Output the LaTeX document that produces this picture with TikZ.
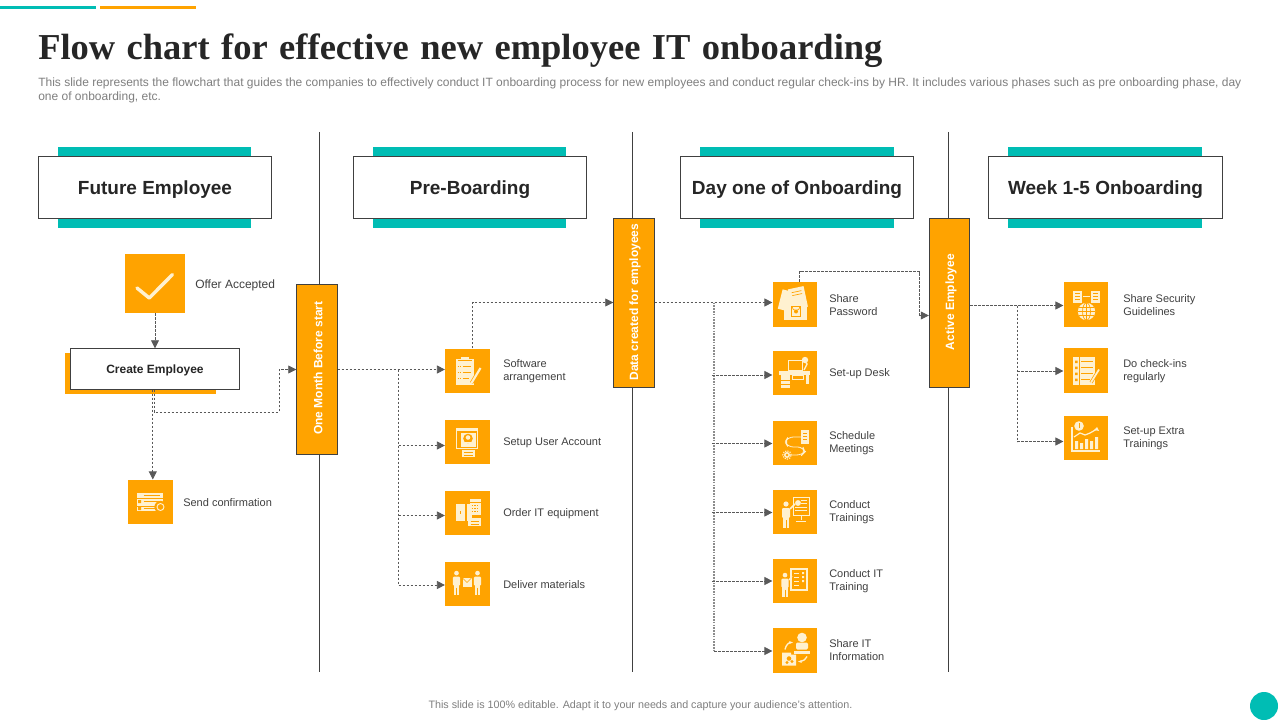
\documentclass[tikz,border=0pt]{standalone}
\usepackage{fontspec}
\setmainfont{Liberation Sans}
\newfontfamily\titlefont[WordSpace=1.25]{Liberation Serif}
\usetikzlibrary{arrows.meta}
\definecolor{orng}{HTML}{FFA300}
\definecolor{teal2}{HTML}{00BDB4}
\definecolor{edge}{HTML}{404040}
\definecolor{conn}{HTML}{595959}
\definecolor{txt}{HTML}{404040}
\definecolor{sub}{HTML}{7F7F7F}
\definecolor{cream}{HTML}{FFF1D0}
\newcommand{\pxfont}[1]{\pgfmathsetmacro{\pxs}{#1*0.75}\fontsize{\pxs pt}{\pxs pt}\selectfont}
\tikzset{
  x=0.75pt,y=-0.75pt,
  header/.style={draw=edge,line width=0.6pt,fill=white,minimum width=175pt,minimum height=47pt,inner sep=0pt,font=\bfseries\pxfont{19},text=black!85},
  tealbar/.style={fill=teal2,draw=none,minimum width=145pt,minimum height=60.75pt,inner sep=0pt},
  vbar/.style={draw=edge,line width=0.6pt,fill=orng,minimum width=30.5pt,inner sep=0pt},
  vtext/.style={rotate=90,text=white,font=\bfseries\pxfont{12},inner sep=0pt},
  icobox/.style={fill=orng,draw=none,minimum width=33.5pt,minimum height=33.5pt,inner sep=0pt},
  lab/.style={anchor=west,align=left,text=txt,font=\pxfont{11},inner sep=0pt,yshift=-0.75pt},
  conn/.style={draw=conn,line width=0.6pt,dash pattern=on 2pt off 1pt},
  arr/.style={conn,-{Triangle[length=6pt,width=6pt,fill=conn]}},
  trunk/.style={draw=black!45,line width=0.8pt,dash pattern=on 1.3pt off 0.8pt},
  divider/.style={draw=edge,line width=0.7pt},
  ic/.style={fill=cream,draw=none},
  icl/.style={draw=cream,line width=0.6pt,fill=none},
  icd/.style={draw=orng,line width=0.5pt},
}
\newcommand{\person}[3]{%
  \fill[ic] (#1,#2-11*#3) circle (2.6*#3*0.75pt);
  \fill[ic,rounded corners=0.8pt] (#1-4*#3,#2-7*#3) rectangle (#1+4*#3,#2+3*#3);
  \fill[ic] (#1-3.2*#3,#2+2*#3) rectangle (#1+3.2*#3,#2+13*#3);
  \draw[icd] (#1,#2+5*#3) -- (#1,#2+13*#3);}
\newcommand{\gear}[3]{%
  \fill[ic] (#1,#2) circle (#3*0.75pt);
  \draw[cream,line width=0.8pt,dash pattern=on 0.9pt off 0.9pt] (#1,#2) circle (#3*1.05pt);
  \fill[orng] (#1,#2) circle (#3*0.35pt);}
\newcommand{\hdtext}[1]{\raisebox{-5.1pt}[0pt][0pt]{#1}}
\begin{document}
\begin{tikzpicture}
\useasboundingbox (0,0) rectangle (1280,720);
\fill[white] (0,0) rectangle (1280,720);
% top accents
\fill[teal2] (0,6) rectangle (96,9);
\fill[orng] (100,6) rectangle (196,9);
% title
\node[anchor=base west,inner sep=0pt,text=black!85] (title) at (38,60) {\titlefont\bfseries\pxfont{36.5}Flow chart for effective new employee IT onboarding};
\node[anchor=base west,inner sep=0pt,text=sub,font=\pxfont{12}] (sub1) at (38,87) {This slide represents the flowchart that guides the companies to effectively conduct IT onboarding process for new employees and conduct regular check-ins by HR. It includes various phases such as pre onboarding phase, day};
\node[anchor=base west,inner sep=0pt,text=sub,font=\pxfont{12}] (sub2) at (38,100.5) {one of onboarding, etc.};
% dividers
\coordinate (d1t) at (319,132); \coordinate (d1b) at (319,672);
\coordinate (d2t) at (632.5,132); \coordinate (d2b) at (632.5,672);
\coordinate (d3t) at (948,132); \coordinate (d3b) at (948,672);
\draw[divider] (d1t) -- (d1b);
\draw[divider] (d2t) -- (d2b);
\draw[divider] (d3t) -- (d3b);
% headers
\node[tealbar] (t1) at (154.5,187.5) {};
\node[tealbar] (t2) at (469.5,187.5) {};
\node[tealbar] (t3) at (797,187.5) {};
\node[tealbar] (t4) at (1105,187.5) {};
\node[header] (h1) at (155,187.5) {\hdtext{Future Employee}};
\node[header] (h2) at (470,187.5) {\hdtext{Pre-Boarding}};
\node[header] (h3) at (797,187.5) {\hdtext{Day one of Onboarding}};
\node[header] (h4) at (1105.5,187.5) {\hdtext{Week 1-5 Onboarding}};
% vertical bars
\node[vbar,minimum height=127.5pt] (bar1) at (317,369) {};
\node[vbar,minimum height=126.75pt] (bar2) at (634,302.5) {};
\node[vbar,minimum height=126.75pt] (bar3) at (949.5,302.5) {};
\node[vtext] (bar1t) at (318,368) {One Month Before start};
\node[vtext] (bar2t) at (635,302) {Data created for employees};
\node[vtext] (bar3t) at (951,302) {Active Employee};
% column 1
\node[icobox,minimum width=45pt,minimum height=44.25pt] (offer) at (155,283.5) {};
\node[lab,font=\pxfont{12}] (offerl) at (195,284) {Offer Accepted};
\fill[orng] (65,353) rectangle (216,394);
\node[draw=edge,line width=0.6pt,fill=white,minimum width=127pt,minimum height=30.5pt,inner sep=0pt,font=\bfseries\pxfont{12},text=black!85] (create) at (155,369) {\raisebox{-3.5pt}[0pt][0pt]{Create Employee}};
\node[icobox] (send) at (150.5,502) {};
\node[lab] (sendl) at (183,501.5) {Send confirmation};
% column 2
\node[icobox] (soft) at (467.5,371) {};
\node[icobox] (user) at (467.5,442) {};
\node[icobox] (order) at (467.5,513) {};
\node[icobox] (deliver) at (467.5,584) {};
\node[lab] (softl) at (503,370) {Software\\[1.5pt]arrangement};
\node[lab] (userl) at (503,441.5) {Setup User Account};
\node[lab] (orderl) at (503,512.5) {Order IT equipment};
\node[lab] (deliverl) at (503,583.5) {Deliver materials};
% column 3
\node[icobox] (pass) at (795,304.5) {};
\node[icobox] (desk) at (795,373) {};
\node[icobox] (meet) at (795,443) {};
\node[icobox] (ctrain) at (795,512) {};
\node[icobox] (ittrain) at (795,581) {};
\node[icobox] (share) at (795,650.5) {};
\node[lab] (passl) at (829,304) {Share\\[1.5pt]Password};
\node[lab] (deskl) at (829,372.5) {Set-up Desk};
\node[lab] (meetl) at (829,442) {Schedule\\[1.5pt]Meetings};
\node[lab] (ctrainl) at (829,511) {Conduct\\[1.5pt]Trainings};
\node[lab] (ittrainl) at (829,580) {Conduct IT\\[1.5pt]Training};
\node[lab] (sharel) at (829,649) {Share IT\\[1.5pt]Information};
% column 4
\node[icobox] (sec) at (1086,304.5) {};
\node[icobox] (chk) at (1086,370.5) {};
\node[icobox] (ext) at (1086,438) {};
\node[lab] (secl) at (1123,304) {Share Security\\[1.5pt]Guidelines};
\node[lab] (chkl) at (1123,370) {Do check-ins\\[1.5pt]regularly};
\node[lab] (extl) at (1123,437) {Set-up Extra\\[1.5pt]Trainings};
% connectors
\coordinate (c1) at (154,412); \coordinate (c2) at (279,412); \coordinate (c3) at (279,369.5);
\draw[arr] (offer.south) -- (create.north);
\draw[arr] (create.south -| c1) -- (c1) -- (c2) -- (c3) -- (bar1.west |- c3);
\coordinate (c4) at (152.8,400);
\draw[arr] (create.south -| c4) -- (send.north -| c4);
% one month -> preboarding
\coordinate (b1) at (398.5,369.5); \coordinate (b1e) at (398.5,585);
\coordinate (b1u) at (398.5,445.5); \coordinate (b1o) at (398.5,515.5);
\draw[arr] (bar1.east |- b1) -- (soft.west |- b1);
\draw[conn] (b1) -- (b1e);
\draw[arr] (b1u) -- (user.west |- b1u);
\draw[arr] (b1o) -- (order.west |- b1o);
\draw[arr] (b1e) -- (deliver.west |- b1e);
% software -> data
\coordinate (s1) at (472.5,302.5);
\draw[arr] (soft.north -| s1) -- (s1) -- (bar2.west |- s1);
% data -> day one
\coordinate (b2) at (714,302.5); \coordinate (b2e) at (714,651);
\coordinate (b2d) at (712,375); \coordinate (b2m) at (712,443.5);
\coordinate (b2c) at (712,512.5); \coordinate (b2i) at (712,581);
\draw[arr] (bar2.east |- b2) -- (pass.west |- b2);
\draw[trunk] (b2) -- (b2e);
\draw[arr] (b2d) -- (desk.west |- b2d);
\draw[arr] (b2m) -- (meet.west |- b2m);
\draw[arr] (b2c) -- (ctrain.west |- b2c);
\draw[arr] (b2i) -- (ittrain.west |- b2i);
\draw[arr] (b2e) -- (share.west |- b2e);
% password -> active
\coordinate (p1) at (799.5,271.5); \coordinate (p2) at (919.5,271.5); \coordinate (p3) at (919.5,315.5);
\draw[arr] (pass.north -| p1) -- (p1) -- (p2) -- (p3) -- (bar3.west |- p3);
% active -> week
\coordinate (b3) at (1017,305.5); \coordinate (b3e) at (1017,441.5); \coordinate (b3c) at (1017,371);
\draw[arr] (bar3.east |- b3) -- (sec.west |- b3);
\draw[conn] (b3) -- (b3e);
\draw[arr] (b3c) -- (chk.west |- b3c);
\draw[arr] (b3e) -- (ext.west |- b3e);
% --- icons ---
% offer
\begin{scope}[shift={(offer.center)}]
\draw[cream,line width=2.6pt,line cap=round,line join=round,fill=none] (-18,4.5) -- (-5.7,14.5) -- (17.5,-9);
\end{scope}
% send
\begin{scope}[shift={(send.center)}]
\fill[ic] (-14,-9) rectangle (12,9);
\draw[icd] (-14,-4) -- (12,-4) (-14,4) -- (12,4);
\fill[orng] (-12.5,-2) rectangle (-9.5,1) (-12.5,5) rectangle (-9.5,8);
\draw[icd] (-7,-6.5) -- (9,-6.5) (-7,-0.5) -- (9,-0.5) (-7,6.5) -- (4,6.5);
\fill[orng] (10,5) circle (4.6pt);
\draw[cream,line width=0.7pt] (10,5) circle (2.6pt);
\end{scope}
% soft
\begin{scope}[shift={(soft.center)}]
\fill[ic] (-12,-12) rectangle (6,14);
\fill[ic] (-7,-14) rectangle (1,-11);
\draw[icd] (-10,-11) -- (4,-11);
\draw[icd,densely dotted] (-10,-5) -- (-7,-5) (-10,1) -- (-7,1) (-10,7) -- (-7,7);
\draw[icd] (-5,-5) -- (3,-5) (-5,1) -- (3,1) (-5,7) -- (1,7);
\draw[orng,line width=2.6pt] (4,12) -- (13,-3);
\draw[cream,line width=1.6pt] (4,12) -- (13,-3);
\end{scope}
% user
\begin{scope}[shift={(user.center)}]
\draw[icl] (-11,-14) rectangle (10,6);
\fill[ic] (-11,-14) rectangle (10,-11);
\fill[ic] (-7,-9) rectangle (8,5);
\fill[orng] (0.5,-3.5) circle (3.6pt);
\fill[ic] (0.5,-4.5) circle (1.7pt);
\fill[ic] (-2.5,-0.5) rectangle (3.5,1);
\fill[ic] (-6,7.5) rectangle (7,15);
\draw[icd] (-4,10) -- (5,10) (-4,13) -- (5,13);
\end{scope}
% order
\begin{scope}[shift={(order.center)}]
\fill[ic] (-12,-9) rectangle (-3,8);
\fill[ic] (-1,-9) rectangle (4,8);
\draw[icd] (-7,-2) -- (-7,1);
\fill[ic] (2,-14) rectangle (13,2);
\draw[icd] (2,-11) -- (13,-11);
\draw[orng,line width=0.5pt,dash pattern=on 1pt off 1pt] (4,-8) -- (11,-8) (4,-5) -- (11,-5) (4,-2) -- (11,-2);
\fill[ic] (0,5) rectangle (13,13);
\draw[icd] (3,8) -- (11,8) (3,11) -- (11,11);
\end{scope}
% deliver
\begin{scope}[shift={(deliver.center)}]
\person{-11}{-1}{0.9}
\person{10}{-1}{0.9}
\fill[ic] (-5,-6) rectangle (4,3);
\draw[icd] (-5,-6) -- (-0.5,-1.5) -- (4,-6);
\end{scope}
% pass
\begin{scope}[shift={(pass.center)}]
\fill[ic,rotate around={-14:(-9,-4)}] (-15,-14) rectangle (-1,6);
\fill[ic,rotate around={12:(3,-6)}] (-5,-17) rectangle (11,4);
\fill[ic] (-11,-2) rectangle (12,15);
\draw[icd,rotate around={12:(3,-6)}] (-2,-13) -- (8,-13) (-2,-10) -- (8,-10);
\draw[icd] (-3,2) arc[start angle=180,end angle=0,radius=4];
\draw[icd] (-3.5,2) rectangle (5.5,12);
\fill[orng] (1,7) circle (1.5pt);
\end{scope}
% desk
\begin{scope}[shift={(desk.center)}]
\fill[ic] (-16,-2) rectangle (15,2);
\fill[ic] (-14,2) rectangle (-5,15);
\draw[icd] (-14,7) -- (-5,7) (-14,11) -- (-5,11);
\fill[ic] (11,2) rectangle (14,11);
\draw[icl] (-7,-13) rectangle (7,-3);
\draw[icl] (-3,2) rectangle (8,6);
\draw[cream,line width=1pt] (9,-3) -- (12,-9) -- (9,-13);
\fill[ic] (10,-13) circle (2.4pt);
\end{scope}
% meet
\begin{scope}[shift={(meet.center)}]
\fill[ic] (6,-13) rectangle (14,1);
\draw[icd] (8,-10) -- (12,-10) (8,-7) -- (12,-7) (8,-4) -- (12,-4);
\draw[icl,rounded corners=4pt] (6,-6) -- (-7,-6) -- (-10,-1) -- (-7,4) -- (8,4) -- (10,9) -- (7,12) -- (-5,12);
\gear{-8}{12}{3}
\end{scope}
% ctrain
\begin{scope}[shift={(ctrain.center)}]
\person{-9}{3}{1.0}
\draw[cream,line width=1.1pt] (-5,-3) -- (0,-8);
\draw[icl] (-2,-15) rectangle (14,3);
\fill[ic] (3,-9) circle (2.2pt);
\draw[icl] (6,-12) -- (12,-12) (6,-9) -- (12,-9) (0,-5) -- (12,-5) (0,-2) -- (12,-2);
\draw[icl] (6,3) -- (6,8) (1,9) -- (11,9);
\end{scope}
% ittrain
\begin{scope}[shift={(ittrain.center)}]
\person{-10}{4}{0.9}
\draw[cream,line width=0.9pt] (-6,-1) -- (-3,-5);
\draw[cream,line width=1pt] (-4,-12) rectangle (12,9);
\draw[icl] (-1,-8) -- (4,-8) (-1,-4) -- (4,-4) (-1,0) -- (4,0) (-1,4) -- (4,4);
\fill[ic] (7,-9) rectangle (9,-7) (7,-5) rectangle (9,-3) (7,-1) rectangle (9,1);
\end{scope}
% share
\begin{scope}[shift={(share.center)}]
\fill[ic] (7,-13) circle (3.6pt);
\fill[ic,rounded corners=1pt] (1,-8) rectangle (13,-1);
\fill[ic] (-1,0) rectangle (15,3);
\fill[ic] (-13,2) rectangle (-4,4) (-13,4) rectangle (1,15);
\fill[orng] (-6,8) circle (1.7pt) (-8,12) circle (1.2pt) (-3,11) circle (1.2pt);
\draw[cream,line width=1pt,-{Stealth[length=3pt]}] (-10,-1) .. controls (-9,-6) and (-6,-8) .. (-2,-8);
\draw[cream,line width=1pt,-{Stealth[length=3pt]}] (12,6) .. controls (10,9) and (8,11) .. (3,11);
\end{scope}
% sec
\begin{scope}[shift={(sec.center)}]
\fill[ic] (-13,-14) rectangle (-4,-2);
\fill[ic] (5,-14) rectangle (14,-2);
\draw[icd] (-11,-11) -- (-6,-11) (-11,-8) -- (-6,-8) (-11,-5) -- (-6,-5) (7,-11) -- (12,-11) (7,-8) -- (12,-8) (7,-5) -- (12,-5);
\draw[icl] (-3,-8) -- (4,-8);
\fill[ic] (0.5,7) circle (6.5pt);
\draw[icd] (-8,7) -- (9,7) (-7,3) -- (8,3) (-7,11) -- (8,11) (0.5,-2) -- (0.5,16);
\draw[icd] (0.5,7) ellipse (3pt and 6.5pt);
\end{scope}
% chk
\begin{scope}[shift={(chk.center)}]
\fill[ic] (-13,-14) rectangle (9,14);
\draw[icd] (-7,-14) -- (-7,14);
\fill[orng] (-11,-10) rectangle (-8.5,-7.5) (-11,-4) rectangle (-8.5,-1.5) (-11,2) rectangle (-8.5,4.5) (-11,8) rectangle (-8.5,10.5);
\draw[icd] (-5,-9) -- (7,-9) (-5,-3) -- (7,-3) (-5,3) -- (7,3) (-5,9) -- (4,9);
\draw[orng,line width=2.4pt] (5,12) -- (13,-1);
\draw[cream,line width=1.3pt] (5,12) -- (13,-1);
\end{scope}
% ext
\begin{scope}[shift={(ext.center)}]
\draw[cream,line width=0.9pt] (-14,-11) -- (-14,13) -- (14,13);
\fill[ic] (-11,3) rectangle (-8,11) (-6,5) rectangle (-3,11) (-1,1) rectangle (2,11) (4,3) rectangle (7,11) (9,-1) rectangle (12,11);
\draw[cream,line width=0.9pt] (-12,-1) -- (-6,-5) -- (-1,-3) -- (4,-5) -- (11,-9);
\fill[ic] (11,-11) -- (13,-7) -- (8,-8) -- cycle;
\fill[ic] (-7,-12) circle (3.6pt);
\fill[orng] (-7.5,-15) rectangle (-6,-10);
\end{scope}
% footer
\node[inner sep=0pt,text=sub,font=\pxfont{10.75}] (foot) at (640.5,705.5) {This slide is 100\% editable. Adapt it to your needs and capture your audience's attention.};
\node[circle,fill=teal2,minimum size=21pt,inner sep=0pt] (dot) at (1264,706) {};
\end{tikzpicture}
\end{document}
